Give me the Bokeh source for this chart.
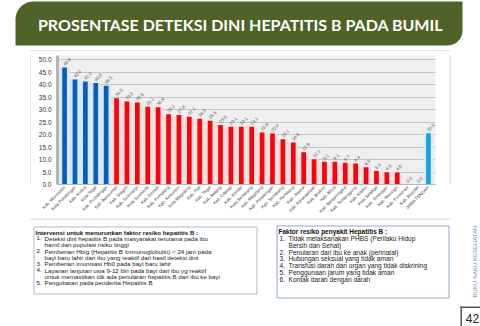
import math
from bokeh.plotting import figure
from bokeh.layouts import column, row
from bokeh.models import (FactorRange, Range1d, ColumnDataSource, FixedTicker,
                          NumeralTickFormatter)
from bokeh.core.properties import value
from bokeh.embed import file_html
from bokeh.resources import INLINE

# ---------------- data ----------------
districts = [
    "Kab. Wonosobo", "Kota Pekalongan", "Kab. Kudus", "Kota Tegal", "Kab. Purbalingga",
    "Kab. Banyumas", "Kab. Sragen", "Kab. Sukoharjo", "Kota Surakarta", "Kab. Demak",
    "Kab. Pemalang", "Kab. Kebumen", "Kota Magelang", "Kab. Pati", "Kab. Tegal",
    "Kab. Batang", "Kab. Cilacap", "Kab. Kendal", "Kota Semarang", "Kab. Magelang",
    "Kab. Pekalongan", "Kab. Semarang", "Kab. Rembang", "Kab. Jepara", "Kab. Karanganyar",
    "Kab. Brebes", "Kab. Blora", "Kab. Banjarnegara", "Kab. Temanggung", "Kab. Klaten",
    "Kota Salatiga", "Kab. Grobogan", "Kab. Wonogiri", "Kab. Purworejo", "Kab. Boyolali",
    "JAWA TENGAH",
]
percent = [
    46.8, 42.0, 41.2, 40.6, 39.5,
    34.5, 33.2, 32.8, 31.1, 30.9,
    28.1, 27.8, 27.1, 26.3, 25.5,
    23.8, 23.1, 23.1, 23.1, 20.8,
    20.4, 18.1, 16.8, 12.9, 10.1,
    9.1, 9.1, 8.7, 8.4, 6.9,
    5.4, 4.9, 4.8, 0.0, 0.0,
    20.5,
]
y_ticks = [0, 5, 10, 15, 20, 25, 30, 35, 40, 45, 50]

title_text = "PROSENTASE DETEKSI DINI HEPATITIS B PADA BUMIL"
left_title = "Intervensi untuk menurunkan faktor resiko hepatitis B :"
left_lines = [
    ("1.", "Deteksi dini hepatitis B pada masyarakat terutama pada ibu"),
    ("", "hamil dan populasi risiko tinggi"),
    ("2.", "Pemberian HbIg (Hepatitis B Immunoglobulin) < 24 jam pada"),
    ("", "bayi baru lahir dari ibu yang reaktif dari hasil  deteksi dini"),
    ("3.", "Pemberian imunisasi Hb0 pada bayi baru lahir"),
    ("4.", "Layanan lanjutan usia 9-12 bln pada bayi dari ibu yg reaktif"),
    ("", "untuk memastikan tdk ada penularan hepatitis B dari ibu ke bayi"),
    ("5.", "Pengobatan pada penderita Hepatitis B"),
]
right_title = "Faktor resiko penyakit Hepatitis B :"
right_lines = [
    ("1.", "Tidak melaksanakan PHBS (Perilaku Hidup"),
    ("", "Bersih dan Sehat)"),
    ("2.", "Penularan dari ibu ke anak (perinatal)"),
    ("3.", "Hubungan seksual yang tidak aman"),
    ("4.", "Transfusi darah dan organ yang tidak diskrining"),
    ("5.", "Penggunaan jarum yang tidak aman"),
    ("6.", "Kontak darah dengan darah"),
]
side_text = "BUKU SAKU KESEHATAN"
page_no = "42"

# ---------------- layout geometry (page pixels) ----------------
W, H = 480, 326
HEAD_H = 51          # header strip height
MID_H = 167          # chart row height
BOT_H = H - HEAD_H - MID_H
SIDE_L, SIDE_R = 31, 31
CHART_W = W - SIDE_L - SIDE_R
FL, FR, FT, FB = 57, 435, 55, 184   # plot frame in page pixels
GREEN = "#4f6228"
BOX_GRAY = "#c8c8c8"


def pix_fig(x0, y0, w, h):
    f = figure(width=w, height=h, x_range=Range1d(x0, x0 + w), y_range=Range1d(y0 + h, y0),
               min_border=0, x_axis_location=None, y_axis_location=None,
               toolbar_location=None, tools="", output_backend="svg", title=None)
    f.outline_line_color = None
    f.background_fill_color = "white"
    f.border_fill_color = "white"
    f.xgrid.visible = False
    f.ygrid.visible = False
    return f


def rounded(l, r, t, b, rtl, rtr, rbr, rbl):
    xs, ys = [], []

    def arc(cx, cy, rad, a0, a1):
        for k in range(13):
            a = a0 + (a1 - a0) * k / 12
            xs.append(cx + rad * math.cos(a))
            ys.append(cy + rad * math.sin(a))
    arc(l + rtl, t + rtl, rtl, math.pi, 1.5 * math.pi)
    arc(r - rtr, t + rtr, rtr, 1.5 * math.pi, 2 * math.pi)
    arc(r - rbr, b - rbr, rbr, 0, 0.5 * math.pi)
    arc(l + rbl, b - rbl, rbl, 0.5 * math.pi, math.pi)
    return xs, ys


# ---------------- header ----------------
head = pix_fig(0, 0, W, HEAD_H)
hx, hy = rounded(15, 462, 1, 45, 18, 0, 15, 0)
head.patch(hx, hy, fill_color=GREEN, line_color=None)
head.text(x=[240], y=[24], text=[title_text], text_font=value("Lato"),
          text_font_style="bold", text_font_size="16px", text_color="white",
          text_align="center", text_baseline="middle")
head.segment(x0=[30], y0=[50.5], x1=[449.5], y1=[50.5], line_color=BOX_GRAY, line_width=1)

# ---------------- side strips of chart box ----------------
lft = pix_fig(0, HEAD_H, SIDE_L, MID_H)
lft.segment(x0=[30.5], y0=[HEAD_H], x1=[30.5], y1=[HEAD_H + MID_H], line_color=BOX_GRAY)
rgt = pix_fig(SIDE_L + CHART_W, HEAD_H, SIDE_R, MID_H)
rgt.segment(x0=[449.5], y0=[HEAD_H], x1=[449.5], y1=[HEAD_H + MID_H], line_color=BOX_GRAY)

# ---------------- chart ----------------
n = len(districts)
colors, halos = [], []
for i in range(n):
    if i == n - 1:
        colors.append("#1ba3dd"); halos.append("#d5eef9")
    elif i < 5:
        colors.append("#0a5fb0"); halos.append("#d6e6f6")
    else:
        colors.append("#ea0a12"); halos.append("#fbdada")

src = ColumnDataSource(dict(x=districts, y=percent, c=colors, h=halos,
                            lbl=[f"{v:.1f}" for v in percent]))

y_top = (FB - FT) / 2.5
p = figure(width=CHART_W, height=MID_H, x_range=FactorRange(*districts, range_padding=0.01),
           y_range=Range1d(0, y_top), output_backend="svg", toolbar_location=None, tools="",
           title=None,
           min_border_left=FL - SIDE_L, min_border_right=SIDE_L + CHART_W - FR,
           min_border_top=FT - HEAD_H, min_border_bottom=HEAD_H + MID_H - FB)
p.outline_line_color = None
p.background_fill_color = "#efefef"
p.border_fill_color = "white"
p.xgrid.grid_line_color = None
p.ygrid.grid_line_color = "#c4c4c4"
p.ygrid.ticker = FixedTicker(ticks=y_ticks)

p.vbar(x="x", top="y", width=0.95, fill_color="h", line_color=None, source=src)
p.vbar(x="x", top="y", width=0.45, fill_color="c", line_color=None, source=src)
p.text(x="x", y="y", text="lbl", angle=math.pi / 4, source=src,
       text_font=value("Liberation Sans"), text_font_size="4.5px", text_color="#555555",
       text_align="left", text_baseline="middle", x_offset=-1, y_offset=-3)

ya = p.yaxis[0]
ya.ticker = FixedTicker(ticks=y_ticks)
ya.formatter = NumeralTickFormatter(format="0.0")
ya.axis_line_color = "#b5b5b5"
ya.axis_line_width = 3
ya.major_tick_line_color = None
ya.minor_tick_line_color = None
ya.major_tick_out = 0
ya.major_tick_in = 0
ya.minor_tick_out = 0
ya.major_label_text_font = "Liberation Sans"
ya.major_label_text_font_size = "6.5px"
ya.major_label_text_color = "#333333"
ya.major_label_standoff = 6

xa = p.xaxis[0]
xa.axis_line_color = "#b5b5b5"
xa.major_tick_line_color = None
xa.minor_tick_line_color = None
xa.major_tick_out = 0
xa.major_tick_in = 0
xa.minor_tick_out = 0
xa.major_label_orientation = math.pi / 4
xa.major_label_text_font = "Liberation Sans"
xa.major_label_text_font_size = "4.3px"
xa.major_label_text_color = "#333333"
xa.major_label_standoff = 2

# ---------------- bottom part ----------------
bot = pix_fig(0, HEAD_H + MID_H, W, BOT_H)
Y0 = HEAD_H + MID_H
bot.segment(x0=[30], y0=[Y0 + 0.5], x1=[450], y1=[Y0 + 0.5], line_color=BOX_GRAY)
bot.quad(left=[33.5, 276.5], right=[256.5, 448.5], top=[226.5, 225.5], bottom=[293.5, 297.5],
         fill_color=None, line_color=["#a9bcd0", "#8ea9c8"], line_width=1)


def put_text(fig, xs, ys, texts, size, color="#222222", bold=False, align="left", angle=0,
             font="Liberation Sans"):
    fig.text(x=xs, y=ys, text=texts, text_font=value(font), text_font_size=f"{size}px",
             text_color=color, text_font_style="bold" if bold else "normal",
             text_align=align, text_baseline="middle", angle=angle)


put_text(bot, [35], [231.5], [left_title], 6.2, color="#111111", bold=True)
nx, ny, nt, tx, ty, tt = [], [], [], [], [], []
yy = 237.8
for num, txt in left_lines:
    if num:
        nx.append(36); ny.append(yy); nt.append(num)
    tx.append(44); ty.append(yy); tt.append(txt)
    yy += 6.35
put_text(bot, nx, ny, nt, 6.2)
put_text(bot, tx, ty, tt, 6.2)

put_text(bot, [278], [230.5], [right_title], 6.5, color="#111111", bold=True)
nx, ny, nt, tx, ty, tt = [], [], [], [], [], []
yy = 237.6
for num, txt in right_lines:
    if num:
        nx.append(279); ny.append(yy); nt.append(num)
    tx.append(288); ty.append(yy); tt.append(txt)
    yy += 6.95
put_text(bot, nx, ny, nt, 6.6)
put_text(bot, tx, ty, tt, 6.6)

put_text(bot, [474], [261], [side_text], 6, color="#6f8cb5", align="center", angle=math.pi / 2)
bot.quad(left=[460, 460], right=[461.5, 480], top=[306, 306], bottom=[326, 307.5],
         fill_color="#555555", line_color=None)
put_text(bot, [472], [318], [page_no], 12, color="#222222", align="center")

layout = column(head, row(lft, p, rgt), bot)
open("out.html", "w").write(file_html(layout, INLINE))
